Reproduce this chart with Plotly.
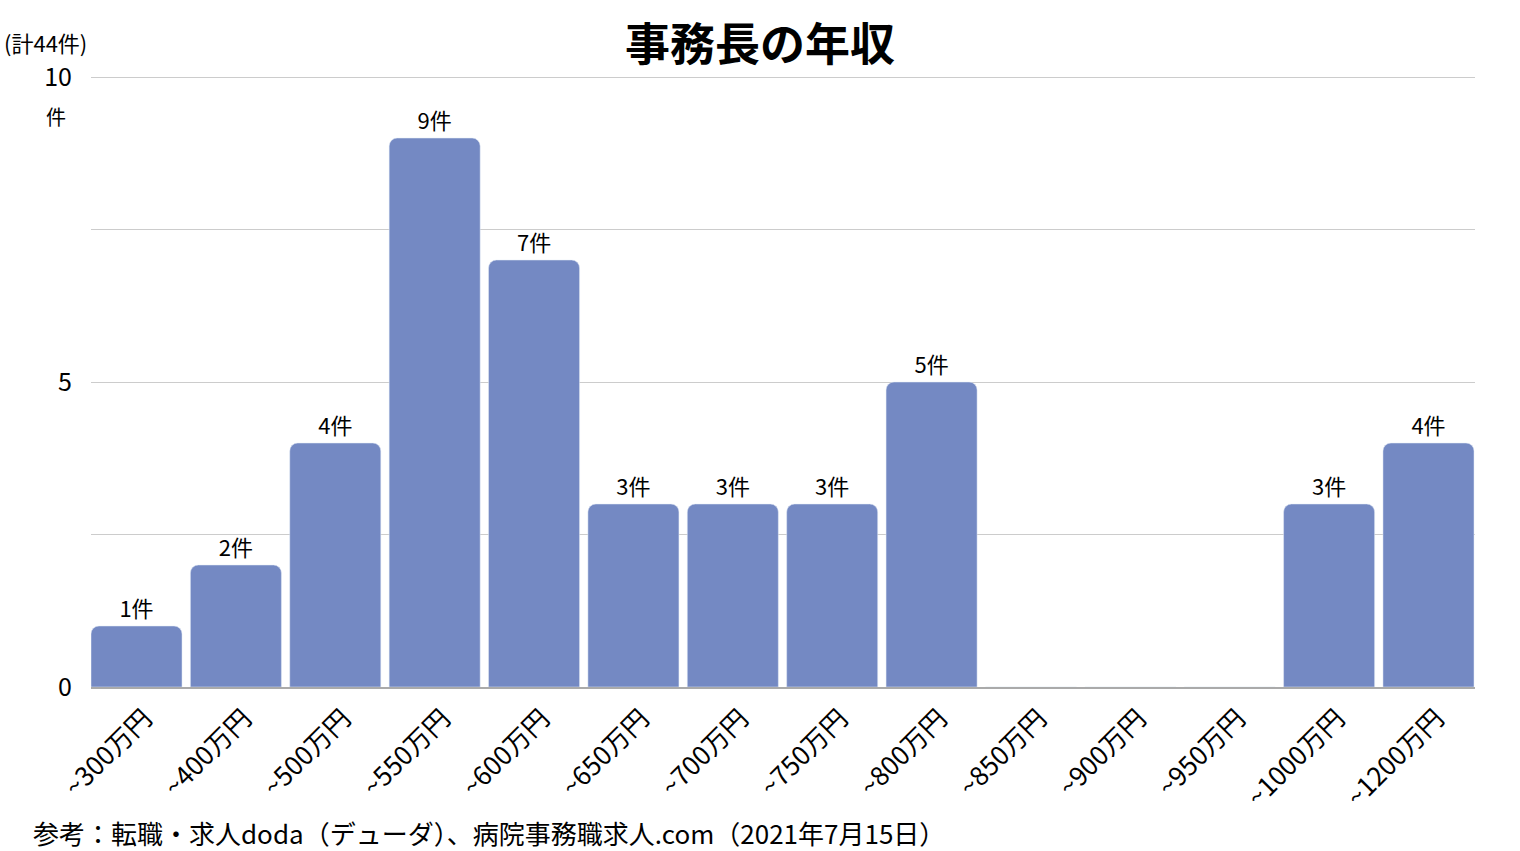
import plotly.graph_objects as go

categories = ["~300万円", "~400万円", "~500万円", "~550万円", "~600万円", "~650万円",
              "~700万円", "~750万円", "~800万円", "~850万円", "~900万円", "~950万円",
              "~1000万円", "~1200万円"]
counts = [1, 2, 4, 9, 7, 3, 3, 3, 5, 0, 0, 0, 3, 4]
labels = [f"{c}件" if c > 0 else "" for c in counts]

y_tickvals = [0, 2.5, 5, 7.5, 10]
y_ticktext = ["0", "", "5", "", "10"]

font_jp = "Noto Sans CJK JP"

fig = go.Figure(go.Bar(
    x=categories,
    y=counts,
    text=labels,
    textposition="outside",
    cliponaxis=False,
    textfont=dict(size=22, color="#000000", family=font_jp),
    marker=dict(color="#7489c3", cornerradius=8),
    hoverinfo="x+y",
))

fig.update_layout(
    width=1520,
    height=851,
    paper_bgcolor="white",
    plot_bgcolor="white",
    bargap=0.084,
    showlegend=False,
    margin=dict(l=91, r=45, t=74, b=164),
    font=dict(family=font_jp, color="#000000"),
    title=dict(text="<b>事務長の年収</b>", x=0.5, xanchor="center",
               y=0.947, yanchor="middle", font=dict(size=45, family=font_jp)),
    xaxis=dict(range=[-0.458, 13.468], tickangle=-45, tickfont=dict(size=26),
               showline=True, linecolor="#aaaaaa", linewidth=2, ticks="",
               ticklabelshift=8, ticklabelstandoff=4),
    yaxis=dict(range=[0, 10.05], tickvals=y_tickvals, ticktext=y_ticktext,
               tickfont=dict(size=25), gridcolor="#cccccc", gridwidth=1,
               zeroline=False, ticks="", ticklabelstandoff=18),
    annotations=[
        dict(text="(計44件)", xref="paper", yref="paper", x=-0.064, y=1.052,
             xanchor="left", yanchor="middle", showarrow=False,
             font=dict(size=22)),
        dict(text="件", xref="paper", yref="paper", x=-0.025, y=0.93,
             xanchor="center", yanchor="middle", showarrow=False,
             font=dict(size=20)),
        dict(text="参考：転職・求人doda（デューダ）、病院事務職求人.com（2021年7月15日）",
             xref="paper", yref="paper", x=-0.043, y=-0.237,
             xanchor="left", yanchor="middle", showarrow=False,
             font=dict(size=26)),
    ],
)

fig.write_html("out.html", config={"displayModeBar": False},
               post_script="document.body.style.margin='0';")
